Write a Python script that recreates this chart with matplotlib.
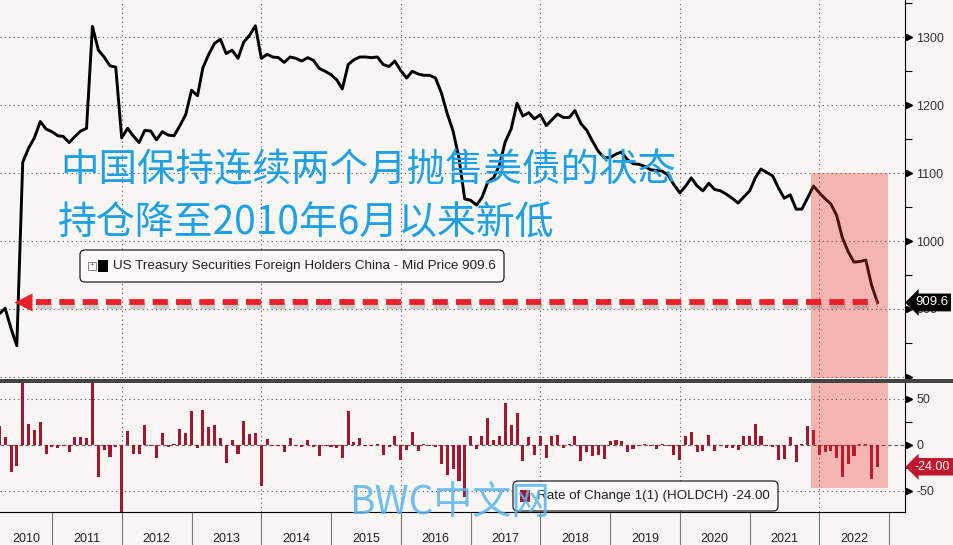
import matplotlib
matplotlib.use('Agg')
import matplotlib.pyplot as plt
import matplotlib.dates as mdates
import matplotlib.patheffects as pe
from matplotlib.patches import Rectangle, FancyBboxPatch
from matplotlib.ticker import MultipleLocator, FixedLocator, FixedFormatter, NullFormatter
import pandas as pd

plt.rcParams['font.family'] = ['Liberation Sans', 'DejaVu Sans']
CJK = ['Noto Sans CJK SC', 'DejaVu Sans']

# values (USD bn, monthly)
first_month = '2010-04-01'
holdings = [893, 901, 871, 846, 1116, 1137, 1152, 1176, 1165, 1161,
            1155, 1154, 1145, 1154, 1162, 1166, 1316, 1281, 1271, 1258,
            1256, 1152, 1166, 1155, 1145, 1163, 1162, 1149, 1161, 1156,
            1155, 1170, 1186, 1222, 1214, 1255, 1275, 1291, 1297, 1276,
            1281, 1269, 1293, 1303, 1317, 1269, 1275, 1271, 1270, 1263,
            1271, 1269, 1265, 1270, 1266, 1254, 1250, 1245, 1237, 1224,
            1260, 1267, 1271, 1271, 1270, 1271, 1260, 1257, 1265, 1251,
            1240, 1250, 1246, 1244, 1244, 1240, 1218, 1187, 1162, 1122,
            1062, 1060, 1053, 1064, 1087, 1093, 1112, 1146, 1165, 1203,
            1184, 1189, 1180, 1186, 1170, 1178, 1187, 1182, 1182, 1192,
            1173, 1163, 1147, 1132, 1123, 1123, 1128, 1131, 1120, 1114,
            1113, 1110, 1105, 1104, 1103, 1097, 1083, 1071, 1081, 1093,
            1081, 1074, 1085, 1076, 1074, 1069, 1063, 1056, 1065, 1074,
            1094, 1106, 1101, 1096, 1078, 1063, 1068, 1047, 1047, 1064,
            1081, 1071, 1062, 1055, 1038, 1005, 984, 969, 970, 972,
            935, 909.6]
# month-on-month change (lower panel)
changes = [20, 8, -30, -23, 270, 22, 16, 25, -10, -3,
           -4, -1, -8, 8, 8, 7, 150, -35, -6, -13,
           -2, -104, 15, -10, -10, 21, -1, -15, 13, -3,
           1, 17, 13, 37, -4, 38, 19, 21, 7, -20,
           5, -10, 26, 12, 13, -45, 6, -1, -1, -8,
           7, -1, -2, 5, -2, -12, -1, -3, -4, -14,
           37, 3, 7, -1, -1, 1, -11, -3, 10, -17,
           -6, 14, -7, 1, -1, -2, -21, -33, -26, -39,
           -57, 10, -5, 9, 29, 5, 10, 45, 21, 35,
           -18, 8, -11, 9, -15, 10, 11, -4, 1, 9,
           -18, -8, -12, -11, -16, 4, 5, 4, -8, -5,
           -1, 1, -1, -5, 1, -1, -11, -17, 9, 14,
           -8, -7, 11, -7, -1, -4, -4, -6, 10, 10,
           23, 10, -1, -2, -17, -16, 8, -19, 1, 20,
           16, -11, -8, -7, -14, -35, -21, -12, 1, 1,
           -37, -24]
last_value = 909.6
last_change = -24.00
years = list(range(2010, 2023))
title_lines = ['中国保持连续两个月抛售美债的状态', '持仓降至2010年6月以来新低']
legend_top = 'US Treasury Securities Foreign Holders China - Mid Price 909.6'
legend_bottom = 'Rate of Change 1(1) (HOLDCH) -24.00'

dates = pd.date_range(first_month, periods=len(holdings), freq='MS')

bg = '#f8f6f3'
bar_red = '#a3162f'
W, H = 954, 545


def fx(x):
    return x / W


def fy(y):
    return 1 - y / H


fig = plt.figure(figsize=(9.54, 5.45), dpi=100, facecolor=bg)
ax1 = fig.add_axes([0, fy(378), fx(905), 378 / H], facecolor=bg)
ax2 = fig.add_axes([0, fy(512), fx(905), (512 - 383) / H], facecolor=bg, sharex=ax1)

x_left = pd.Timestamp('2010-04-04')
x_right = pd.Timestamp('2023-03-25')
pink_from = pd.Timestamp('2021-11-17')
pink_to = pd.Timestamp('2022-12-26')
grid_years = [pd.Timestamp(f'{y}-01-01') for y in range(2012, 2023, 2)]
dot = (0, (1, 3))

# ---- top panel: holdings
y1lo, y1hi = 798.4, 1354.9
ax1.plot(dates, holdings, color='black', lw=2.1, zorder=3)
ax1.set_ylim(y1lo, y1hi)
ax1.set_xlim(x_left, x_right)
ticks1 = [800, 900, 1000, 1100, 1200, 1300]
ax1.yaxis.tick_right()
ax1.set_yticks(ticks1, [''] + [str(t) for t in ticks1[1:]])
ax1.yaxis.set_minor_locator(MultipleLocator(50))
ax1.tick_params(axis='y', which='major', length=0, pad=8, labelsize=9, labelcolor='#333')
ax1.tick_params(axis='y', which='minor', length=5, width=0.8, color='black')
ax1.tick_params(axis='x', which='both', bottom=False, labelbottom=False)
ax1.plot([1.004] * len(ticks1), ticks1, ls='none', marker='>', ms=5, color='black',
         transform=ax1.get_yaxis_transform(), clip_on=False)
for t in ticks1:
    ax1.axhline(t, color='#555', lw=0.8, ls=dot, zorder=1)
for d in grid_years:
    ax1.axvline(d, color='#555', lw=0.8, ls=dot, zorder=1)
for s in ['top', 'left', 'bottom']:
    ax1.spines[s].set_visible(False)
ax1.spines['right'].set_color('black')

ax1.axvspan(pink_from, pink_to, ymin=0, ymax=(1100 - y1lo) / (y1hi - y1lo),
            color='#ed2e2e', alpha=0.33, lw=0, zorder=4)

# red dashed arrow back to 2010 level
arrow_tip = pd.Timestamp('2010-08-01')
arrow_tail = pd.Timestamp('2010-10-10')
ax1.plot([arrow_tail, dates[-1]], [last_value, last_value], color='#e8202a', lw=4.2,
         ls=(0, (2.6, 1.4)), solid_capstyle='butt', dash_capstyle='butt', zorder=5,
         path_effects=[pe.SimpleLineShadow(offset=(0.5, -2.5), shadow_color='#777', alpha=0.35),
                       pe.Normal()])
ax1.plot([arrow_tip], [last_value], marker='<', ms=13, color='#e8202a', mec='none', zorder=5)

ax1.text(1.011, last_value, f'{last_value:.1f}', transform=ax1.get_yaxis_transform(),
         ha='left', va='center', color='white', fontsize=9.5, zorder=10, clip_on=False,
         bbox=dict(boxstyle='larrow,pad=0.22', fc='black', ec='none'))

# ---- bottom panel: monthly change
y2lo, y2hi = -73.2, 67.1
ax2.bar(dates, changes, width=16, color=bar_red, zorder=2)
ax2.set_ylim(y2lo, y2hi)
ticks2 = [-50, 0, 50]
ax2.yaxis.tick_right()
ax2.set_yticks(ticks2, [str(t) for t in ticks2])
ax2.yaxis.set_minor_locator(MultipleLocator(25))
ax2.tick_params(axis='y', which='major', length=0, pad=8, labelsize=9, labelcolor='#333')
ax2.tick_params(axis='y', which='minor', length=5, width=0.8, color='black')
ax2.plot([1.004] * len(ticks2), ticks2, ls='none', marker='>', ms=5, color='black',
         transform=ax2.get_yaxis_transform(), clip_on=False)
for t in [-50, 50]:
    ax2.axhline(t, color='#555', lw=0.8, ls=dot, zorder=1)
ax2.axhline(0, color='#666', lw=0.9, ls=(0, (3, 2)), zorder=1)
for d in grid_years:
    ax2.axvline(d, color='#555', lw=0.8, ls=dot, zorder=1)
for s in ['top', 'left']:
    ax2.spines[s].set_visible(False)
ax2.axvspan(pink_from, pink_to, ymin=(-47 - y2lo) / (y2hi - y2lo), ymax=1,
            color='#ed2e2e', alpha=0.33, lw=0, zorder=4)

ax2.text(1.011, last_change, f'{last_change:.2f}', transform=ax2.get_yaxis_transform(),
         ha='left', va='center', color='white', fontsize=9, zorder=10, clip_on=False,
         bbox=dict(boxstyle='larrow,pad=0.22', fc='#c0172f', ec='none'))

# year cells on the x axis
year_starts = [mdates.date2num(pd.Timestamp(f'{y}-01-01')) for y in range(2011, 2024)]
label_pos = [(mdates.date2num(x_left) + year_starts[0]) / 2]
label_pos += [mdates.date2num(pd.Timestamp(f'{y}-07-02')) for y in years[1:]]
ax2.xaxis.set_major_locator(FixedLocator(year_starts))
ax2.xaxis.set_major_formatter(NullFormatter())
ax2.xaxis.set_minor_locator(FixedLocator(label_pos))
ax2.xaxis.set_minor_formatter(FixedFormatter([str(y) for y in years]))
ax2.tick_params(axis='x', which='major', length=24, width=0.8, color='#777')
ax2.tick_params(axis='x', which='minor', length=0, pad=15, labelsize=9, labelcolor='#222')
ax1.tick_params(axis='x', which='both', bottom=False, labelbottom=False)

# separator between panels
fig.patches.append(Rectangle((0, fy(383)), 1, 4 / H, transform=fig.transFigure,
                             fc='#444', ec='none', zorder=1))

# legend boxes
fig.patches.append(FancyBboxPatch((fx(80), fy(282)), fx(424), 32 / H,
                                  boxstyle='round,pad=0,rounding_size=0.005',
                                  mutation_aspect=W / H, transform=fig.transFigure,
                                  fc='#fbfaf8', ec='#222', lw=0.9, zorder=2))
fig.patches.append(Rectangle((fx(88), fy(270)), 8 / W, 8 / H, transform=fig.transFigure,
                             fc='none', ec='#888', lw=0.7, zorder=3))
fig.text(fx(92), fy(266), '+', fontsize=6, color='#666', ha='center', va='center', zorder=3)
fig.patches.append(Rectangle((fx(98), fy(272)), 10 / W, 12 / H, transform=fig.transFigure,
                             fc='black', ec='none', zorder=3))
fig.text(fx(113), fy(266), legend_top, fontsize=9.7, color='#222', va='center', zorder=3)

fig.patches.append(FancyBboxPatch((fx(513), fy(511)), fx(265), 30 / H,
                                  boxstyle='round,pad=0,rounding_size=0.005',
                                  mutation_aspect=W / H, transform=fig.transFigure,
                                  fc='#fbfaf8', ec='#222', lw=0.9, zorder=2))
fig.patches.append(Rectangle((fx(520), fy(502)), 10 / W, 12 / H, transform=fig.transFigure,
                             fc=bar_red, ec='none', zorder=3))
fig.text(fx(537), fy(496), legend_bottom, fontsize=9.6, color='#222', va='center', zorder=3)

# Chinese headline and watermark
fig.text(fx(60), fy(170), title_lines[0], fontsize=27.7, color='#1e9fe6', va='center',
         family=CJK, zorder=6)
fig.text(fx(58), fy(223), title_lines[1], fontsize=28, color='#1e9fe6', va='center',
         family=CJK, zorder=6)
fig.text(fx(450), fy(503), 'BWC中文网', fontsize=28, color='#5ab4ea', alpha=0.85,
         ha='center', va='center', family=CJK, zorder=10)

fig.savefig('out.png', dpi=100, facecolor=bg)
